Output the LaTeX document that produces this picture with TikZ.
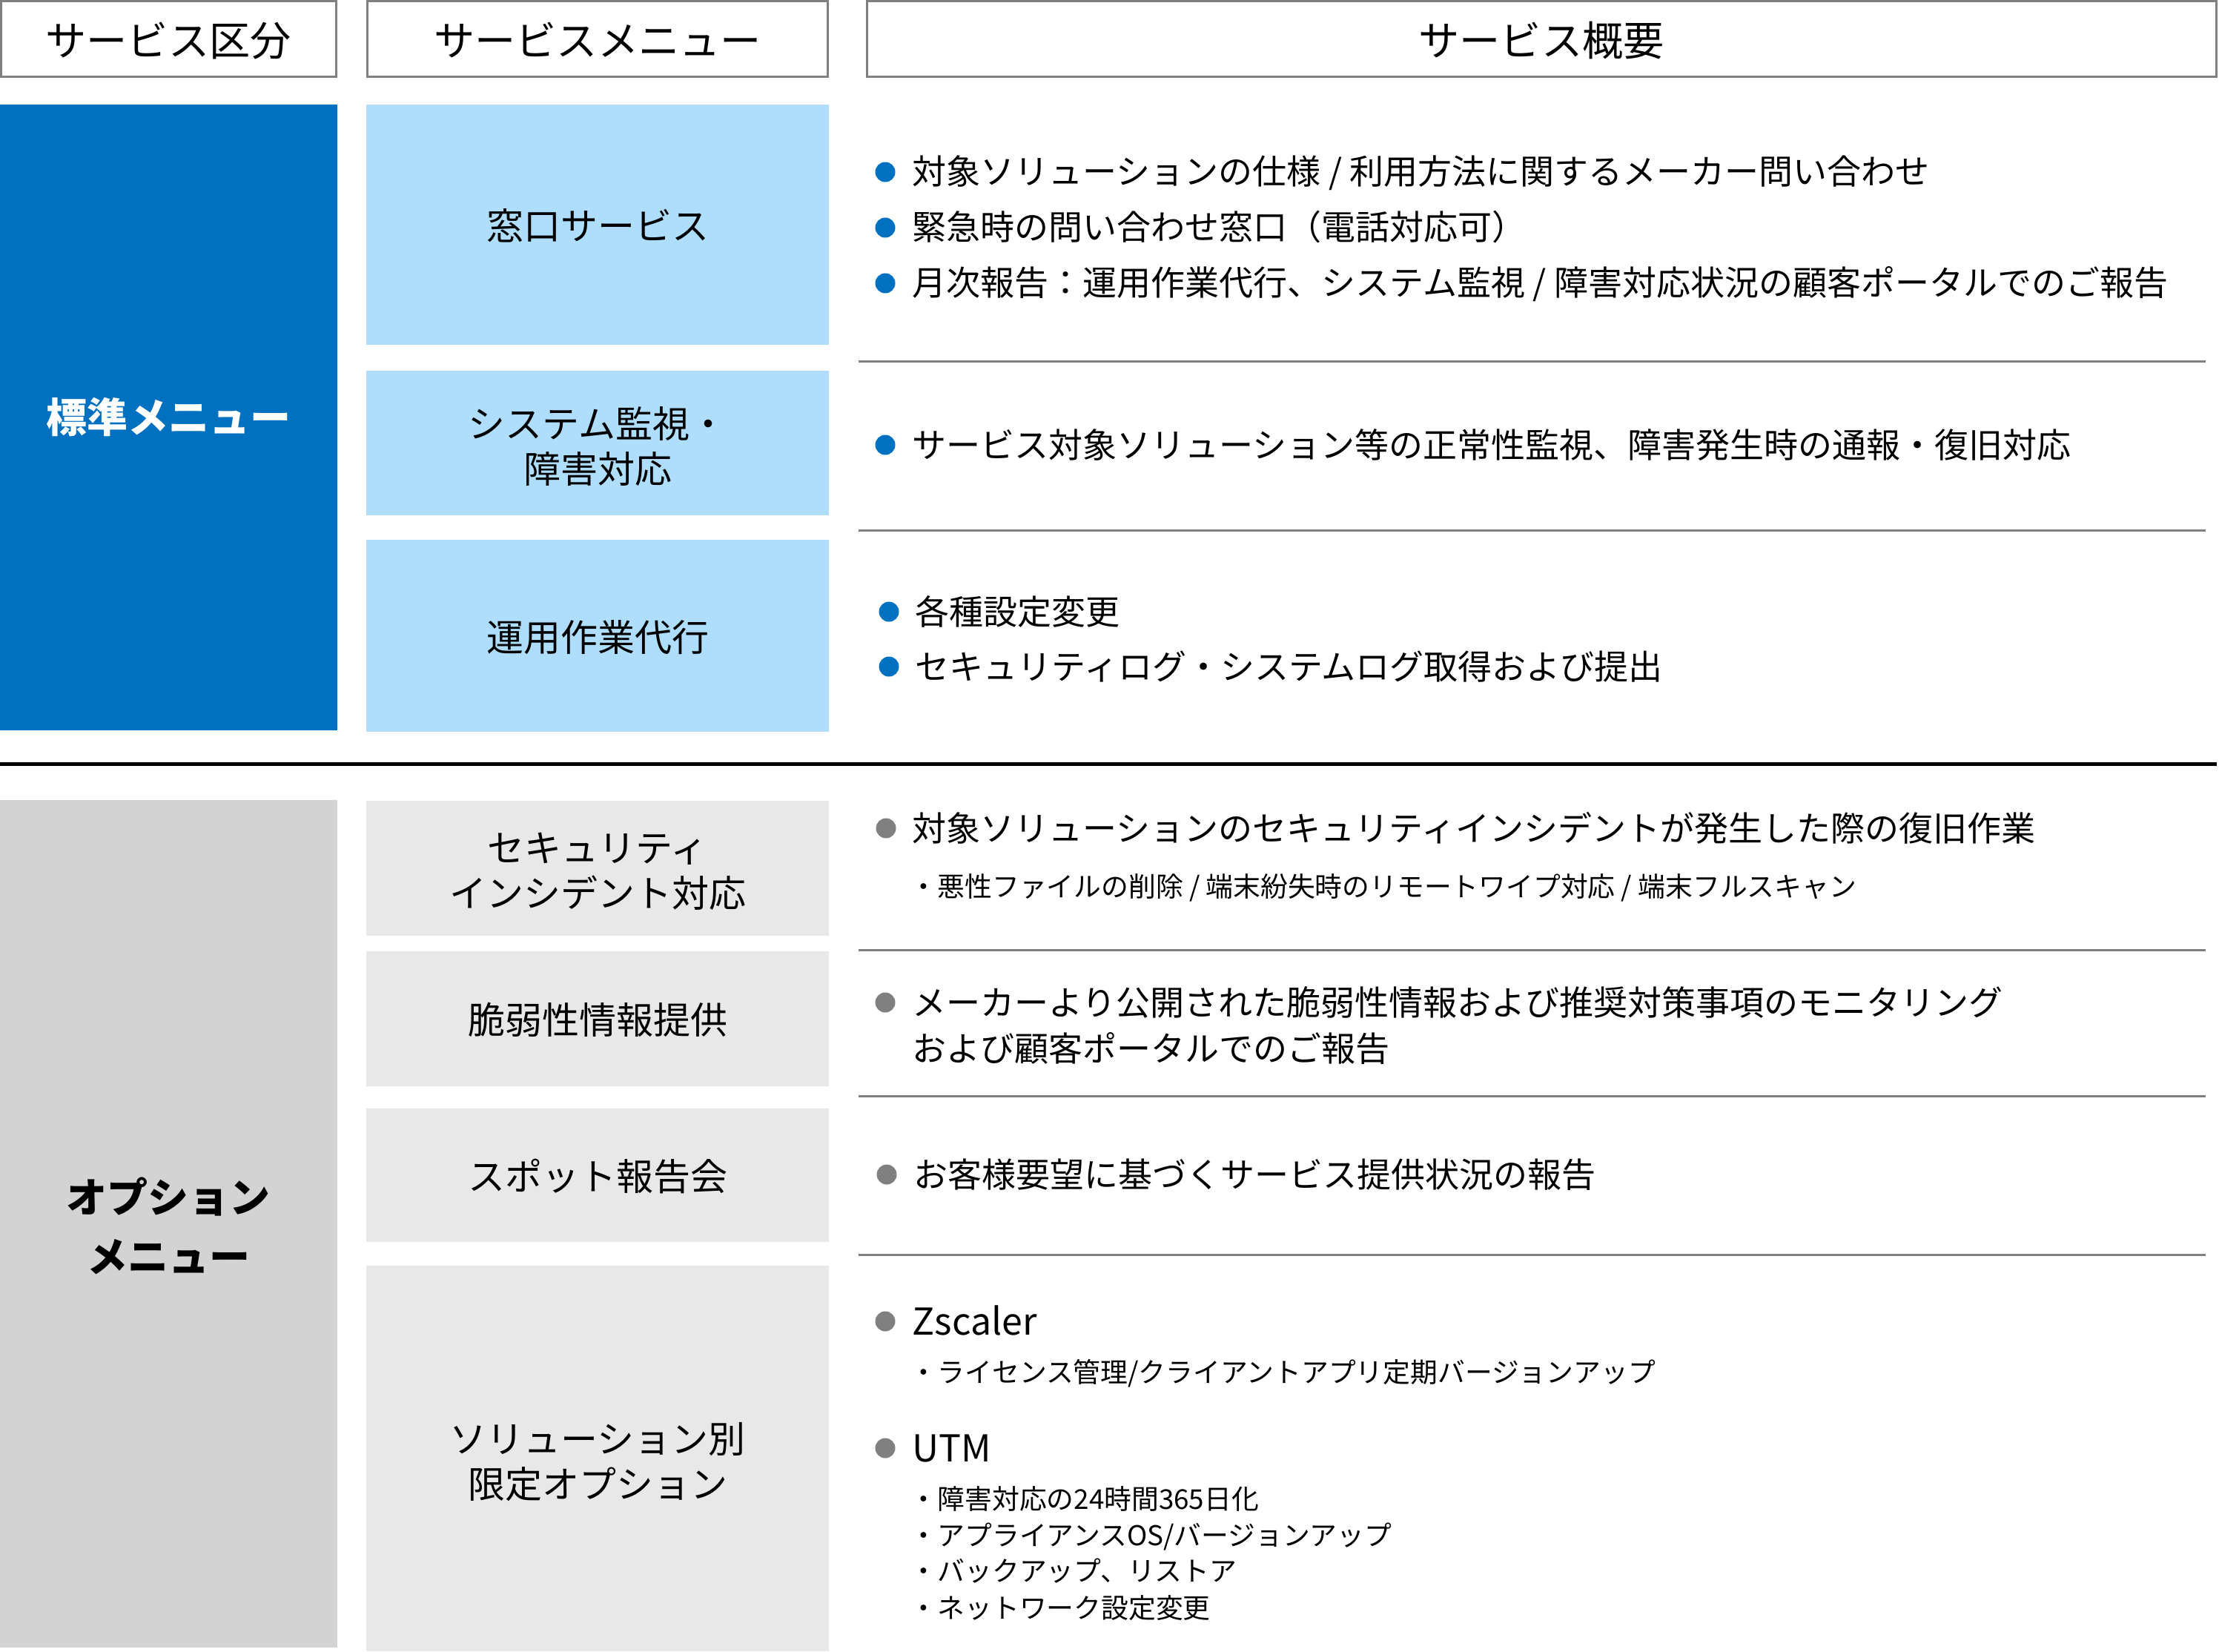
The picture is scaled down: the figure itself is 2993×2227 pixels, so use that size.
\documentclass[tikz,border=0pt]{standalone}
\usepackage{fontspec}
\setmainfont{Noto Sans CJK JP}
\definecolor{mblue}{RGB}{0,112,192}
\definecolor{lblue}{RGB}{175,221,252}
\definecolor{dgray}{RGB}{211,211,211}
\definecolor{lgray}{RGB}{232,232,232}
\definecolor{lineg}{RGB}{128,128,128}
\begin{document}
\begin{tikzpicture}[x=0.25pt,y=-0.25pt,
  hdr/.style={font=\fontsize{13.8}{16}\selectfont, inner sep=0pt, text height=0.88em, text depth=0.12em},
  menu/.style={font=\fontsize{12.5}{15.25}\selectfont, inner sep=0pt, align=center},
  menu1/.style={font=\fontsize{12.5}{15.25}\selectfont, inner sep=0pt, text height=0.88em, text depth=0.12em},
  cat/.style={font=\bfseries\fontsize{13.75}{20}\selectfont, inner sep=0pt, align=center},
  cat1/.style={font=\bfseries\fontsize{13.75}{20}\selectfont, inner sep=0pt, text height=0.88em, text depth=0.12em},
  body/.style={font=\fontsize{11.5}{14}\selectfont, inner sep=0pt, anchor=west, text height=0.88em, text depth=0.12em},
  subitem/.style={font=\fontsize{9.2}{11}\selectfont, inner sep=0pt, anchor=west, text height=0.88em, text depth=0.12em},
  latin/.style={font=\fontsize{12.5}{14}\selectfont, inner sep=0pt, anchor=west, text height=0.72em, text depth=0em},
  bb/.style={circle, fill=mblue, inner sep=0pt, minimum size=6.75pt},
  gb/.style={circle, fill=lineg, inner sep=0pt, minimum size=6.75pt},
  sepline/.style={draw=lineg, line width=0.75pt},
  hbox/.style={draw=lineg, line width=0.6pt}
]
\useasboundingbox (0,0) rectangle (2993,2227);

% ---------- header ----------
\draw[hbox] (1.5,1.5) rectangle (453.5,103.5);
\node[hdr] (h1) at (227,60) {サービス区分};
\draw[hbox] (495.5,1.5) rectangle (1116.5,103.5);
\node[hdr] (h2) at (806,60) {サービスメニュー};
\draw[hbox] (1169.5,1.5) rectangle (2989.5,103.5);
\node[hdr] (h3) at (2079,60) {サービス概要};

% ---------- standard menu ----------
\fill[mblue] (0,141) rectangle (455,985);
\node[cat1, text=white] (std) at (227,568) {標準メニュー};

\fill[lblue] (494,141) rectangle (1118,465);
\node[menu1] (m1) at (806,308) {窓口サービス};
\fill[lblue] (494,500) rectangle (1118,695);
\node[menu] (m2) at (806,602) {システム監視・\\障害対応};
\fill[lblue] (494,728) rectangle (1118,987);
\node[menu1] (m3) at (806,863) {運用作業代行};

% separators
\draw[sepline] (1158,487) -- (2975,487);
\draw[sepline] (1158,715) -- (2975,715);

% row 1
\node[bb] (b11) at (1194,232) {};
\node[body] (t11) at (1230,233) {対象ソリューションの仕様 / 利用方法に関するメーカー問い合わせ};
\node[bb] (b12) at (1194,307) {};
\node[body] (t12) at (1230,308) {緊急時の問い合わせ窓口（電話対応可）};
\node[bb] (b13) at (1194,382) {};
\node[body] (t13) at (1230,383) {月次報告：運用作業代行、システム監視 / 障害対応状況の顧客ポータルでのご報告};
% row 2
\node[bb] (b21) at (1194,600) {};
\node[body] (t21) at (1230,602) {サービス対象ソリューション等の正常性監視、障害発生時の通報・復旧対応};
% row 3
\node[bb] (b31) at (1199,825) {};
\node[body] (t31) at (1234,827) {各種設定変更};
\node[bb] (b32) at (1199,899) {};
\node[body] (t32) at (1234,901) {セキュリティログ・システムログ取得および提出};

% ---------- divider ----------
\draw[line width=1.25pt] (0,1030.5) -- (2990,1030.5);

% ---------- option menu ----------
\fill[dgray] (0,1079) rectangle (455,2222);
\node[cat] (opt) at (227,1653) {オプション\\メニュー};

\fill[lgray] (494,1080) rectangle (1118,1262);
\node[menu] (o1) at (806,1175) {セキュリティ\\インシデント対応};
\fill[lgray] (494,1283) rectangle (1118,1465);
\node[menu1] (o2) at (806,1379) {脆弱性情報提供};
\fill[lgray] (494,1495) rectangle (1118,1675);
\node[menu1] (o3) at (806,1590) {スポット報告会};
\fill[lgray] (494,1707) rectangle (1118,2227);
\node[menu] (o4) at (806,1972) {ソリューション別\\限定オプション};

\draw[sepline] (1158,1281) -- (2975,1281);
\draw[sepline] (1158,1478) -- (2975,1478);
\draw[sepline] (1158,1692) -- (2975,1692);

% option row 1
\node[gb] (p11) at (1195,1117) {};
\node[body] (q11) at (1230,1119) {対象ソリューションのセキュリティインシデントが発生した際の復旧作業};
\node[subitem] (s11) at (1227,1194) {・悪性ファイルの削除 / 端末紛失時のリモートワイプ対応 / 端末フルスキャン};
% option row 2
\node[gb] (p21) at (1194,1352) {};
\node[body] (q21) at (1230,1354) {メーカーより公開された脆弱性情報および推奨対策事項のモニタリング};
\node[body] (q22) at (1230,1416) {および顧客ポータルでのご報告};
% option row 3
\node[gb] (p31) at (1196,1584) {};
\node[body] (q31) at (1232,1586) {お客様要望に基づくサービス提供状況の報告};
% option row 4
\node[gb] (p41) at (1194,1782) {};
\node[latin] (q41) at (1230,1786) {Zscaler};
\node[subitem] (s41) at (1227,1849) {・ライセンス管理/クライアントアプリ定期バージョンアップ};
\node[gb] (p42) at (1194,1953) {};
\node[latin] (q42) at (1230,1957) {UTM};
\node[subitem] (s42) at (1227,2020) {・障害対応の24時間365日化};
\node[subitem] (s43) at (1227,2069) {・アプライアンスOS/バージョンアップ};
\node[subitem] (s44) at (1227,2117) {・バックアップ、リストア};
\node[subitem] (s45) at (1227,2167) {・ネットワーク設定変更};
\end{tikzpicture}
\end{document}
